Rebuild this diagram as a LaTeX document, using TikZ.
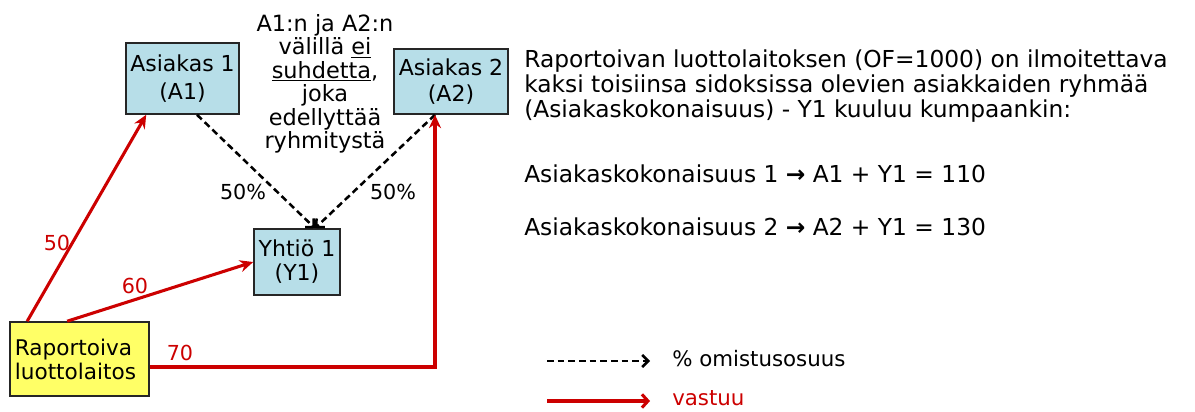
\documentclass[tikz,border=0pt]{standalone}
\usepackage{fontspec}
\setmainfont{DejaVu Sans}
\usetikzlibrary{arrows.meta,calc}
\definecolor{boxblue}{RGB}{183,222,232}
\definecolor{boxyellow}{RGB}{255,255,102}
\definecolor{vred}{RGB}{204,0,0}
\begin{document}
\begin{tikzpicture}[x=0.75pt,y=-0.75pt,
  box/.style={draw=black!85, line width=1.2pt, fill=boxblue, inner sep=0pt, align=center, font=\fontsize{16.5}{20}\selectfont},
  resp/.style={draw=vred, line width=2.3pt, -{Stealth[length=10pt,width=9pt]}},
  own/.style={draw=black, line width=1.9pt, dash pattern=on 5pt off 3pt, -{Straight Barb[length=4.5pt,width=9pt]}},
  lbl/.style={font=\fontsize{15.5}{18}\selectfont, inner sep=0pt},
  body/.style={font=\fontsize{17.5}{18.75}\selectfont, inner sep=0pt, align=left},
]
\useasboundingbox (0,0) rectangle (1195,411);

% boxes
\node[box, minimum width=84.75pt, minimum height=53.25pt, font=\fontsize{16.5}{21.5}\selectfont] (A1) at (182.5,78.5) {Asiakas 1\\(A1)};
\node[box, minimum width=85.5pt, minimum height=48.75pt, font=\fontsize{16.5}{19}\selectfont] (A2) at (451,81.5) {Asiakas 2\\(A2)};
\node[box, minimum width=64.5pt, minimum height=49.5pt, font=\fontsize{16.5}{18}\selectfont] (Y1) at (297,262) {Yhtiö 1\\(Y1)};
\node[box, fill=boxyellow, minimum width=104.25pt, minimum height=55.5pt, text width=97pt, inner xsep=3.6pt, align=left, font=\fontsize{16.2}{18}\selectfont] (R) at (79.5,359) {Raportoiva\\luottolaitos};

% middle note
\node[lbl, align=center, font=\fontsize{16.8}{17.6}\selectfont] (note) at (325,84)
  {A1:n ja A2:n\\välillä \underline{ei}\\\underline{suhdetta},\\joka\\edellyttää\\ryhmitystä};

% ownership (dashed)
\draw[own] ($(A1.south)+(14.5,0)$) -- ($(Y1.north)+(18,0)$);
\draw[own] ($(A2.south)+(-16,0)$) -- ($(Y1.north)+(18,0)$);
\node[lbl] (p1) at (243,192) {50\%};
\node[lbl] (p2) at (393,192) {50\%};

% responsibility (red)
\draw[resp] ($(R.north west)+(18,0)$) -- ($(A1.south west)+(21,0)$);
\draw[resp] ($(R.north west)+(58,0)$) -- (Y1.west);
\draw[resp] ($(R.east)+(0,8)$) -| ($(A2.south)+(-16,0)$);
\node[lbl, text=vred] (v50) at (57,243) {50};
\node[lbl, text=vred] (v60) at (135,286) {60};
\node[lbl, text=vred] (v70) at (180,353) {70};

% right text
\node[body, anchor=base west] (t1) at (524,117)
  {Raportoivan luottolaitoksen (OF=1000) on ilmoitettava\\
   kaksi toisiinsa sidoksissa olevien asiakkaiden ryhmää\\
   (Asiakaskokonaisuus) - Y1 kuuluu kumpaankin:};
\node[body, anchor=base west] (t2) at (524,182) {Asiakaskokonaisuus 1 {\bfseries →} A1 + Y1 = 110};
\node[body, anchor=base west] (t3) at (524,235) {Asiakaskokonaisuus 2 {\bfseries →} A2 + Y1 = 130};

% legend
\coordinate (la) at (547,361);
\coordinate (lb) at (650,361);
\coordinate (lc) at (547,401);
\coordinate (ld) at (650,401);
\draw[own] (la) -- (lb);
\draw[resp, -{Straight Barb[length=4.5pt,width=10pt]}] (lc) -- (ld);
\node[lbl, anchor=base west, font=\fontsize{16}{18}\selectfont] (leg1) at (672,366) {\% omistusosuus};
\node[lbl, anchor=base west, text=vred, font=\fontsize{16}{18}\selectfont] (leg2) at (672,405) {vastuu};
\end{tikzpicture}
\end{document}
